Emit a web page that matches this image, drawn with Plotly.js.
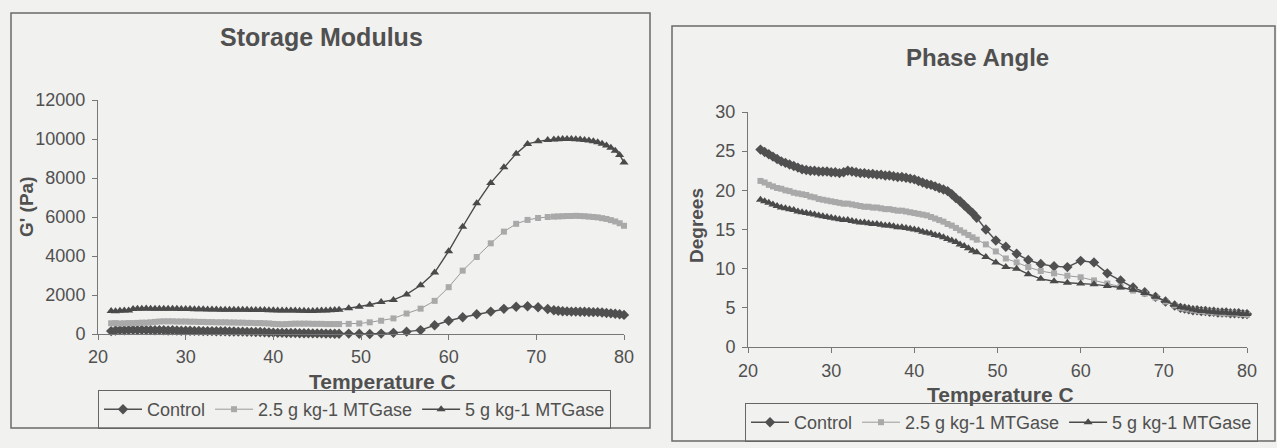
<!DOCTYPE html>
<html>
<head>
<meta charset="utf-8">
<script src="https://cdn.plot.ly/plotly-3.0.1.min.js"></script>
<style>
  html, body { margin: 0; padding: 0; background: #f1f1ef; }
  #chart { width: 1277px; height: 448px; }
</style>
</head>
<body>
<div id="chart"></div>
<script>
// Temperature (C) shared by all series
const temperature = [
  21.5,22,22.5,23,23.5,24,24.5,25,25.5,26,
  26.5,27,27.5,28,28.5,29,29.5,30,30.5,31,
  31.5,32,32.5,33,33.5,34,34.5,35,35.5,36,
  36.5,37,37.5,38,38.5,39,39.5,40,40.5,41,
  41.5,42,42.5,43,43.5,44,44.5,45,45.5,46,
  46.5,47,47.5,
  48.6,49.8,51.0,52.3,53.7,55.2,56.8,58.4,60.0,61.6,63.2,64.8,66.3,67.7,69.0,70.2,71.3,
  72,72.5,73,73.5,74,74.5,75,75.5,76,76.5,77,77.5,78,78.5,79,79.5,80
];

const seriesNames = ["Control", "2.5 g kg-1 MTGase", "5 g kg-1 MTGase"];

// Storage modulus G' (Pa)
const gControl = [
  150,180,200,190,200,210,200,210,200,200,
  190,200,190,180,190,180,170,170,170,160,
  160,150,150,150,140,140,140,130,130,120,
  120,110,110,100,100,90,80,70,60,60,
  50,50,50,40,40,40,30,30,30,20,
  20,10,10,
  20,10,0,20,60,120,200,450,680,860,1010,1150,1290,1400,1420,1370,1280,
  1220,1190,1170,1160,1150,1150,1140,1140,1130,1120,1120,1100,1080,1060,1040,1010,980
];
const g25 = [
  550,560,540,550,560,560,570,580,580,600,
  620,640,650,650,650,640,640,640,630,630,
  620,620,610,610,600,600,600,590,590,580,
  580,570,570,560,560,550,540,520,510,500,
  510,520,530,530,530,530,520,520,520,510,
  510,510,510,
  520,540,600,680,800,1050,1300,1700,2400,3250,3950,4650,5250,5650,5850,5950,6000,
  6020,6030,6040,6050,6050,6060,6050,6040,6020,6000,5980,5940,5900,5840,5770,5680,5550
];
const g5 = [
  1180,1170,1190,1200,1200,1280,1300,1300,1310,1300,
  1300,1300,1290,1300,1290,1290,1280,1280,1280,1270,
  1270,1270,1260,1260,1260,1250,1250,1250,1250,1240,
  1240,1240,1230,1230,1230,1230,1220,1220,1210,1210,
  1200,1200,1200,1190,1190,1180,1180,1190,1200,1210,
  1220,1230,1250,
  1320,1400,1500,1640,1750,2030,2500,3150,4250,5500,6700,7750,8550,9250,9750,9880,9950,
  9970,9990,10000,10000,10000,9990,9970,9950,9920,9880,9830,9760,9670,9550,9400,9180,8800
];

// Phase angle (degrees)
const paControl = [
  25.2,24.9,24.6,24.3,24.0,23.7,23.5,23.3,23.1,22.9,
  22.7,22.6,22.5,22.5,22.4,22.4,22.4,22.3,22.3,22.2,
  22.3,22.5,22.4,22.3,22.2,22.2,22.1,22.1,22.0,22.0,
  21.9,21.9,21.8,21.7,21.7,21.6,21.5,21.4,21.2,21.0,
  20.8,20.7,20.5,20.3,20.1,19.9,19.5,19.0,18.6,18.1,
  17.6,17.1,16.5,
  15.0,13.6,12.8,11.9,11.1,10.6,10.3,10.2,11.0,10.8,9.4,8.5,7.6,7.0,6.4,5.8,5.3,
  5.0,4.9,4.8,4.7,4.7,4.6,4.6,4.5,4.5,4.4,4.4,4.4,4.3,4.3,4.3,4.2,4.2
];
const pa25 = [
  21.2,21.0,20.7,20.5,20.3,20.2,20.0,19.9,19.7,19.6,
  19.5,19.4,19.2,19.1,18.9,18.8,18.7,18.6,18.5,18.4,
  18.3,18.3,18.2,18.1,18.0,17.9,17.9,17.8,17.8,17.7,
  17.6,17.6,17.5,17.4,17.4,17.3,17.2,17.1,17.0,16.9,
  16.8,16.6,16.4,16.2,16.0,15.7,15.5,15.2,14.9,14.6,
  14.3,14.0,13.7,
  13.1,12.2,11.3,10.8,10.2,9.7,9.4,9.1,8.9,8.5,8.1,7.7,7.2,6.8,6.3,5.8,5.3,
  5.0,4.9,4.8,4.7,4.6,4.6,4.5,4.5,4.4,4.4,4.3,4.3,4.3,4.3,4.2,4.2,4.1
];
const pa5 = [
  18.8,18.6,18.4,18.2,18.0,17.8,17.7,17.6,17.5,17.3,
  17.2,17.1,17.0,16.9,16.8,16.7,16.6,16.5,16.4,16.3,
  16.2,16.2,16.1,16.0,15.9,15.9,15.8,15.7,15.7,15.6,
  15.5,15.5,15.4,15.3,15.3,15.2,15.1,15.0,14.9,14.7,
  14.6,14.5,14.3,14.2,14.0,13.8,13.6,13.4,13.1,12.9,
  12.6,12.3,12.1,
  11.5,10.8,10.2,10.0,9.3,8.7,8.4,8.2,8.1,8.0,7.8,7.6,7.3,6.9,6.4,5.9,5.4,
  5.1,5.0,4.9,4.8,4.7,4.6,4.6,4.5,4.5,4.4,4.4,4.4,4.3,4.3,4.3,4.2,4.2
];

const styles = [
  {color: "#505050", symbol: "diamond", size: 8, lineColor: "#505050", lineWidth: 1.4},
  {color: "#a9a9a9", symbol: "square", size: 6, lineColor: "#9a9a9a", lineWidth: 1},
  {color: "#4a4a4a", symbol: "triangle-up", size: 8, lineColor: "#4a4a4a", lineWidth: 1.4}
];

function mk(y, i, xa, ya, leg) {
  const s = styles[i];
  return {
    x: temperature, y: y, type: "scatter", mode: "lines+markers",
    name: seriesNames[i], xaxis: xa, yaxis: ya, legend: leg,
    line: {color: s.lineColor, width: s.lineWidth},
    marker: {color: s.color, symbol: s.symbol, size: s.size},
    cliponaxis: false
  };
}

const data = [
  mk(gControl, 0, "x", "y", "legend"),
  mk(g25, 1, "x", "y", "legend"),
  mk(g5, 2, "x", "y", "legend"),
  mk(paControl, 0, "x2", "y2", "legend2"),
  mk(pa25, 1, "x2", "y2", "legend2"),
  mk(pa5, 2, "x2", "y2", "legend2")
];

const W = 1277, H = 448;
const px = v => v / W;
const py = v => 1 - v / H;
const FONT = "Liberation Sans, Arial, sans-serif";
const TXT = "#505050";

const axisCommon = {
  showline: true, linecolor: "#777", linewidth: 1,
  ticks: "outside", ticklen: 5, tickcolor: "#777",
  showgrid: false, zeroline: false,
  tickfont: {family: FONT, size: 18, color: TXT},
  tickformat: "d",
  fixedrange: true
};

const legendCommon = {
  orientation: "h", xanchor: "left", yanchor: "top",
  bordercolor: "#666", borderwidth: 1, bgcolor: "rgba(0,0,0,0)",
  itemwidth: 38,
  font: {family: FONT, size: 18, color: TXT}, itemclick: false, itemdoubleclick: false
};

const layout = {
  width: W, height: H,
  margin: {l: 0, r: 0, t: 0, b: 0},
  paper_bgcolor: "#f1f1ef",
  plot_bgcolor: "rgba(0,0,0,0)",
  font: {family: FONT, color: TXT},
  showlegend: true,
  xaxis: Object.assign({}, axisCommon, {domain: [px(98), px(624)], range: [20, 80], dtick: 10, anchor: "y", ticklabelstandoff: 1}),
  yaxis: Object.assign({}, axisCommon, {domain: [py(334), py(100)], range: [0, 12000], dtick: 2000, anchor: "x", ticklabelstandoff: 3}),
  xaxis2: Object.assign({}, axisCommon, {domain: [px(748), px(1247)], range: [20, 80], dtick: 10, anchor: "y2", ticklabelstandoff: 2}),
  yaxis2: Object.assign({}, axisCommon, {domain: [py(347), py(112)], range: [0, 30], dtick: 5, anchor: "x2", ticklabelstandoff: 3}),
  legend: Object.assign({}, legendCommon, {x: px(98), y: py(390)}),
  legend2: Object.assign({}, legendCommon, {x: px(745), y: py(403)}),
  shapes: [
    {type: "rect", xref: "paper", yref: "paper", x0: px(11), x1: px(650), y0: py(428), y1: py(13), line: {color: "#6a6a6a", width: 1.5}},
    {type: "rect", xref: "paper", yref: "paper", x0: px(672), x1: px(1275), y0: py(441), y1: py(26), line: {color: "#6a6a6a", width: 1.5}}
  ],
  annotations: [
    {text: "<b>Storage Modulus</b>", xref: "paper", yref: "paper", x: px(321), y: py(37), xanchor: "center", yanchor: "middle", showarrow: false, font: {family: FONT, size: 25, color: TXT}},
    {text: "<b>Phase Angle</b>", xref: "paper", yref: "paper", x: px(977), y: py(58), xanchor: "center", yanchor: "middle", showarrow: false, font: {family: FONT, size: 24, color: TXT}},
    {text: "<b>Temperature C</b>", xref: "paper", yref: "paper", x: px(383), y: py(381), xanchor: "center", yanchor: "middle", showarrow: false, font: {family: FONT, size: 21, color: TXT}},
    {text: "<b>Temperature C</b>", xref: "paper", yref: "paper", x: px(1000), y: py(394), xanchor: "center", yanchor: "middle", showarrow: false, font: {family: FONT, size: 21, color: TXT}},
    {text: "<b>G' (Pa)</b>", xref: "paper", yref: "paper", x: px(26), y: py(207), xanchor: "center", yanchor: "middle", textangle: -90, showarrow: false, font: {family: FONT, size: 19, color: TXT}},
    {text: "<b>Degrees</b>", xref: "paper", yref: "paper", x: px(696), y: py(226), xanchor: "center", yanchor: "middle", textangle: -90, showarrow: false, font: {family: FONT, size: 19, color: TXT}}
  ]
};

Plotly.newPlot("chart", data, layout, {displayModeBar: false, staticPlot: true});
</script>
</body>
</html>
